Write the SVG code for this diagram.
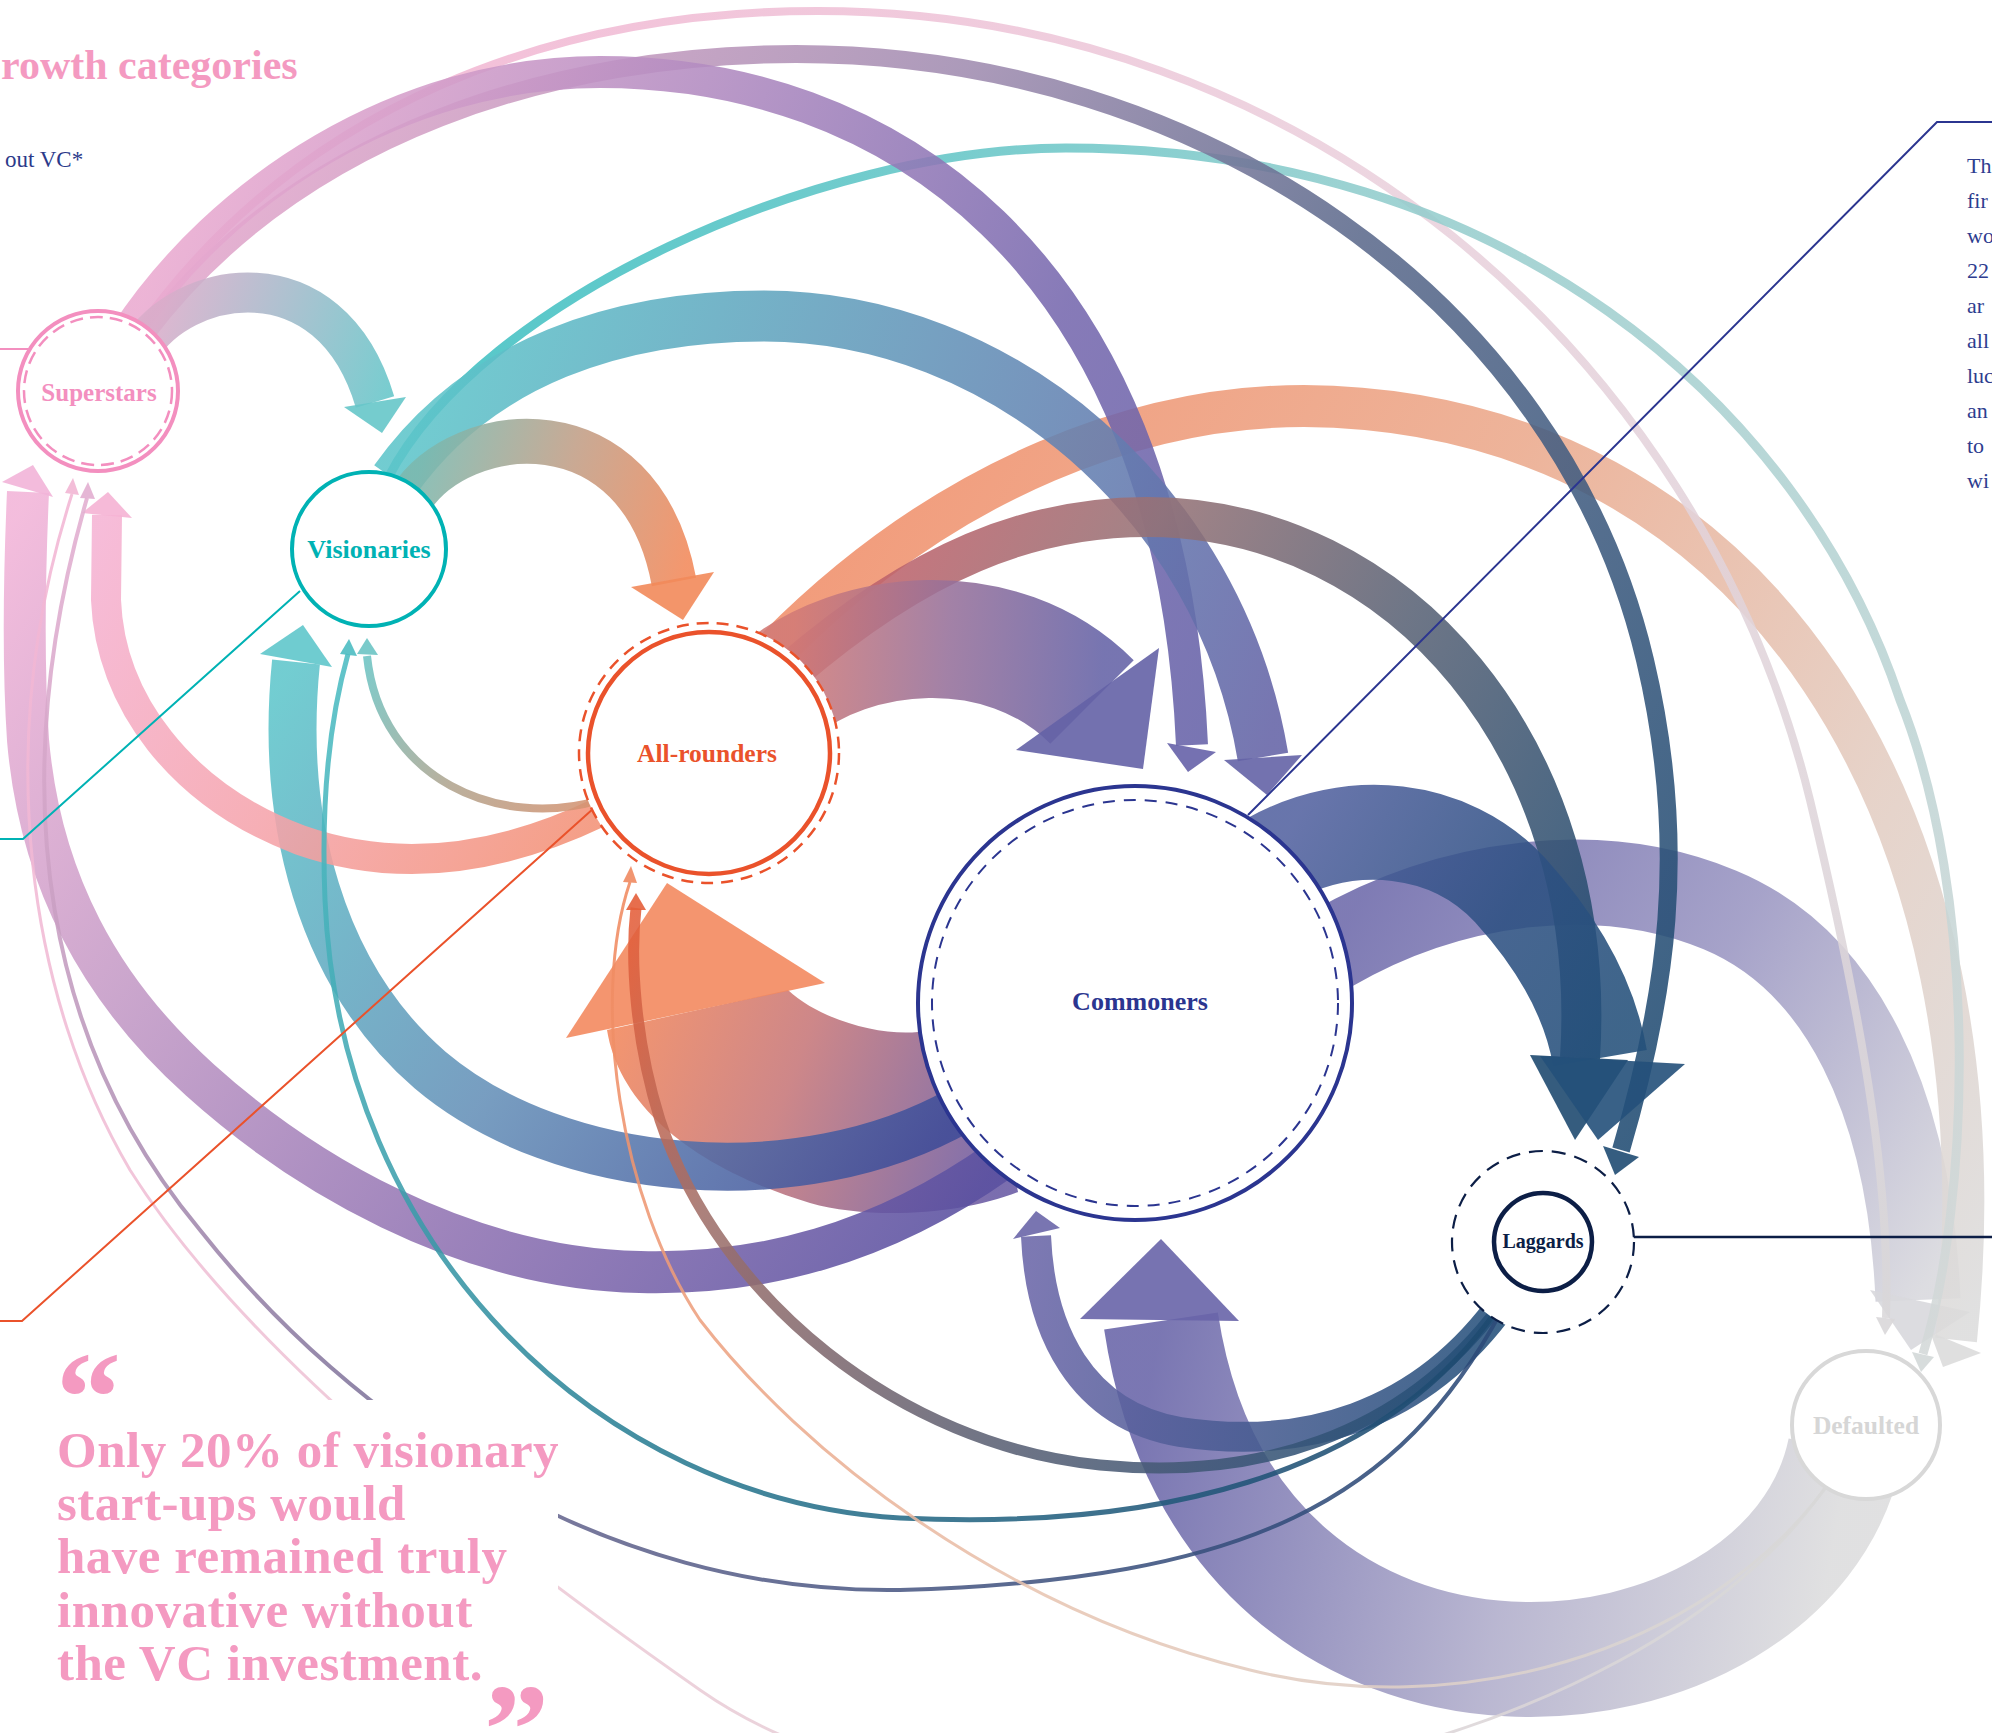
<svg xmlns="http://www.w3.org/2000/svg" width="1992" height="1733" viewBox="0 0 1992 1733">
<style>
.band{fill:none;stroke-linecap:butt;stroke-opacity:0.88}
.head{fill-opacity:0.9}
.lbl{font-family:"Liberation Serif",serif;font-weight:bold;text-anchor:middle}
.side{font-family:"Liberation Serif",serif;font-size:22px;fill:#2e3d8f}
</style>
<defs>
<linearGradient id="gSV" gradientUnits="userSpaceOnUse" x1="150" y1="340" x2="380" y2="420"><stop offset="0" stop-color="#d9adca"/><stop offset="1" stop-color="#66c6c9"/></linearGradient>
<linearGradient id="gSC" gradientUnits="userSpaceOnUse" x1="130" y1="330" x2="1200" y2="750"><stop offset="0" stop-color="#eaaad0"/><stop offset="0.4" stop-color="#b08ac0"/><stop offset="0.75" stop-color="#7668ae"/><stop offset="1" stop-color="#6662a8"/></linearGradient>
<linearGradient id="gSL" gradientUnits="userSpaceOnUse" x1="145" y1="335" x2="1640" y2="1150"><stop offset="0" stop-color="#e3a7cc"/><stop offset="0.35" stop-color="#a08cb0"/><stop offset="0.6" stop-color="#5c6a8c"/><stop offset="1" stop-color="#1f4b72"/></linearGradient>
<linearGradient id="gSD" gradientUnits="userSpaceOnUse" x1="135" y1="335" x2="1890" y2="1320"><stop offset="0" stop-color="#f3b4d2"/><stop offset="0.5" stop-color="#ead0dc"/><stop offset="1" stop-color="#d9d7d9"/></linearGradient>
<linearGradient id="gVC" gradientUnits="userSpaceOnUse" x1="395" y1="480" x2="1263" y2="757"><stop offset="0" stop-color="#5ec5ca"/><stop offset="0.5" stop-color="#6395b9"/><stop offset="1" stop-color="#6463a6"/></linearGradient>
<linearGradient id="gVD" gradientUnits="userSpaceOnUse" x1="388" y1="478" x2="1923" y2="1354"><stop offset="0" stop-color="#3fc0c2"/><stop offset="0.4" stop-color="#90cccc"/><stop offset="1" stop-color="#d3d8d8"/></linearGradient>
<linearGradient id="gVA" gradientUnits="userSpaceOnUse" x1="410" y1="500" x2="680" y2="585"><stop offset="0" stop-color="#7cb8ae"/><stop offset="0.5" stop-color="#c19e86"/><stop offset="1" stop-color="#f2895a"/></linearGradient>
<linearGradient id="gAC" gradientUnits="userSpaceOnUse" x1="790" y1="680" x2="1100" y2="700"><stop offset="0" stop-color="#d27a76"/><stop offset="0.5" stop-color="#96709a"/><stop offset="1" stop-color="#6462a6"/></linearGradient>
<linearGradient id="gAD" gradientUnits="userSpaceOnUse" x1="770" y1="655" x2="1956" y2="1340"><stop offset="0" stop-color="#f08f6a"/><stop offset="0.4" stop-color="#eba98c"/><stop offset="0.75" stop-color="#e3cdc2"/><stop offset="1" stop-color="#dcdcdc"/></linearGradient>
<linearGradient id="gAL" gradientUnits="userSpaceOnUse" x1="790" y1="672" x2="1584" y2="1060"><stop offset="0" stop-color="#c5606a"/><stop offset="0.3" stop-color="#957276"/><stop offset="0.6" stop-color="#5a6376"/><stop offset="1" stop-color="#1f4a70"/></linearGradient>
<linearGradient id="gCL" gradientUnits="userSpaceOnUse" x1="1270" y1="860" x2="1600" y2="1060"><stop offset="0" stop-color="#5362a0"/><stop offset="0.6" stop-color="#2d5082"/><stop offset="1" stop-color="#24507a"/></linearGradient>
<linearGradient id="gCD" gradientUnits="userSpaceOnUse" x1="1330" y1="950" x2="1918" y2="1300"><stop offset="0" stop-color="#6d69aa"/><stop offset="0.5" stop-color="#9a96c2"/><stop offset="1" stop-color="#d8d8dd"/></linearGradient>
<linearGradient id="gDC" gradientUnits="userSpaceOnUse" x1="1850" y1="1460" x2="1160" y2="1330"><stop offset="0" stop-color="#dcdcdd"/><stop offset="0.45" stop-color="#b0adcb"/><stop offset="1" stop-color="#6864a8"/></linearGradient>
<linearGradient id="gCA" gradientUnits="userSpaceOnUse" x1="620" y1="1000" x2="1010" y2="1150"><stop offset="0" stop-color="#f38a5f"/><stop offset="0.45" stop-color="#c87a7c"/><stop offset="1" stop-color="#6c5ea6"/></linearGradient>
<linearGradient id="gCV" gradientUnits="userSpaceOnUse" x1="960" y1="1110" x2="296" y2="660"><stop offset="0" stop-color="#3f4c98"/><stop offset="0.5" stop-color="#6590b8"/><stop offset="1" stop-color="#5fc6cb"/></linearGradient>
<linearGradient id="gCS" gradientUnits="userSpaceOnUse" x1="1000" y1="1160" x2="28" y2="500"><stop offset="0" stop-color="#5a50a0"/><stop offset="0.35" stop-color="#8f72b2"/><stop offset="0.7" stop-color="#c49ac6"/><stop offset="1" stop-color="#f2b4d8"/></linearGradient>
<linearGradient id="gAS" gradientUnits="userSpaceOnUse" x1="600" y1="812" x2="106" y2="515"><stop offset="0" stop-color="#f39277"/><stop offset="0.5" stop-color="#f5a4ac"/><stop offset="1" stop-color="#f5b3d4"/></linearGradient>
<linearGradient id="gLC" gradientUnits="userSpaceOnUse" x1="1505" y1="1300" x2="1036" y2="1236"><stop offset="0" stop-color="#24507a"/><stop offset="1" stop-color="#6a66a8"/></linearGradient>
<linearGradient id="gLA" gradientUnits="userSpaceOnUse" x1="1500" y1="1305" x2="636" y2="908"><stop offset="0" stop-color="#244f78"/><stop offset="0.45" stop-color="#5f6274"/><stop offset="0.8" stop-color="#a0706a"/><stop offset="1" stop-color="#e45e3a"/></linearGradient>
<linearGradient id="gLV" gradientUnits="userSpaceOnUse" x1="1498" y1="1308" x2="348" y2="654"><stop offset="0" stop-color="#1e4a70"/><stop offset="0.5" stop-color="#2a7d93"/><stop offset="1" stop-color="#4cbcc2"/></linearGradient>
<linearGradient id="gLS" gradientUnits="userSpaceOnUse" x1="1502" y1="1310" x2="87" y2="498"><stop offset="0" stop-color="#2c4a78"/><stop offset="0.5" stop-color="#6e6a92"/><stop offset="1" stop-color="#e2aed0"/></linearGradient>
<linearGradient id="gDS" gradientUnits="userSpaceOnUse" x1="1830" y1="1480" x2="72" y2="494"><stop offset="0" stop-color="#d8d8d8"/><stop offset="0.5" stop-color="#eccad6"/><stop offset="1" stop-color="#f2b6d4"/></linearGradient>
<linearGradient id="gDA" gradientUnits="userSpaceOnUse" x1="1830" y1="1482" x2="630" y2="882"><stop offset="0" stop-color="#d8d8d8"/><stop offset="0.5" stop-color="#e8c4b0"/><stop offset="1" stop-color="#f08a60"/></linearGradient>
<linearGradient id="gAV" gradientUnits="userSpaceOnUse" x1="600" y1="800" x2="367" y2="654"><stop offset="0" stop-color="#d69270"/><stop offset="0.5" stop-color="#b0a590"/><stop offset="1" stop-color="#6cc4c4"/></linearGradient>
</defs>
<rect width="1992" height="1733" fill="#ffffff"/>

<g id="connectors">
  <g id="flow-defaulted-commoners">
    <path class="band" stroke="url(#gDC)" stroke-width="115" d="M1845,1450 C1790,1720 1230,1780 1161,1321"/>
    <polygon class="head" fill="#6864a8" points="1080,1319 1161,1239 1239,1321"/>
  </g>
  <g id="flow-commoners-defaulted">
    <path class="band" stroke="url(#gCD)" stroke-width="85" d="M1330,950 C1450,880 1600,860 1720,910 C1840,960 1910,1100 1918,1300"/>
    <polygon class="head" fill="#d8d8dd" points="1870,1290 1970,1312 1911,1350"/>
  </g>
  <g id="flow-allrounders-defaulted">
    <path class="band" stroke="url(#gAD)" stroke-width="42" d="M770,655 C950,470 1150,406 1304,406 C1760,410 2010,820 1956,1340"/>
    <polygon class="head" fill="#dcdcdc" points="1930,1332 1981,1353 1943,1367"/>
  </g>
  <g id="flow-superstars-defaulted">
    <path class="band" stroke="url(#gSD)" stroke-width="8" d="M135,335 C300,100 560,11 818,11 C1300,11 1700,350 1810,800 C1870,1050 1890,1200 1886,1318"/>
    <polygon class="head" fill="#d9d7d9" points="1876,1317 1895,1319 1885,1335"/>
  </g>
  <g id="flow-visionaries-defaulted">
    <path class="band" stroke="url(#gVD)" stroke-width="9" d="M388,478 C480,300 820,148 1066,148 C1500,148 1800,400 1900,700 C1980,900 1970,1200 1923,1354"/>
    <polygon class="head" fill="#d3d8d8" points="1912,1352 1934,1357 1921,1372"/>
  </g>
  <g id="flow-superstars-laggards">
    <path class="band" stroke="url(#gSL)" stroke-width="18" d="M145,335 C300,130 560,54 796,54 C1200,54 1560,300 1645,660 C1690,850 1665,1000 1621,1150"/>
    <polygon class="head" fill="#1f4b72" points="1603,1146 1639,1157 1615,1175"/>
  </g>
  <g id="flow-superstars-commoners">
    <path class="band" stroke="url(#gSC)" stroke-width="32" d="M125,335 C220,190 400,72 600,72 C880,72 1170,250 1192,745"/>
    <polygon class="head" fill="#6662a8" points="1167,743 1216,752 1188,772"/>
  </g>
  <g id="flow-visionaries-commoners">
    <path class="band" stroke="url(#gVC)" stroke-width="51" d="M395,480 C480,360 620,316 764,316 C1000,316 1220,500 1263,757"/>
    <polygon class="head" fill="#6463a6" points="1224,760 1302,755 1267,795"/>
  </g>
  <g id="flow-allrounders-laggards">
    <path class="band" stroke="url(#gAL)" stroke-width="40" d="M790,672 C920,560 1030,517 1147,517 C1400,517 1600,750 1580,1058"/>
    <polygon class="head" fill="#1f4a70" points="1530,1055 1628,1060 1575,1140"/>
  </g>
  <g id="flow-commoners-laggards">
    <path class="band" stroke="url(#gCL)" stroke-width="95" d="M1270,860 C1350,815 1450,825 1510,890 C1560,945 1590,1000 1600,1058"/>
    <polygon class="head" fill="#24507a" points="1540,1056 1685,1064 1598,1140"/>
  </g>
  <g id="flow-allrounders-commoners">
    <path class="band" stroke="url(#gAC)" stroke-width="118" d="M780,690 C850,630 1000,610 1092,702"/>
    <polygon class="head" fill="#6462a6" points="1016,750 1159,648 1143,769"/>
  </g>
  <g id="flow-visionaries-allrounders">
    <path class="band" stroke="url(#gVA)" stroke-width="45" d="M410,500 C460,420 640,400 674,582"/>
    <polygon class="head" fill="#f2895a" points="631,587 714,572 683,620"/>
  </g>
  <g id="flow-superstars-visionaries">
    <path class="band" stroke="url(#gSV)" stroke-width="40" d="M140,350 C180,280 330,250 375,402"/>
    <polygon class="head" fill="#66c6c9" points="344,407 406,397 382,433"/>
  </g>
  <g id="flow-commoners-allrounders">
    <path class="head" fill="url(#gCA)" d="M607,1030 C620,1110 700,1170 810,1203 C870,1220 960,1215 1018,1192 L1000,1100 L918,1032 C880,1036 820,1020 788,990 Z"/>
    <polygon class="head" fill="#f38a5f" points="566,1038 667,883 825,983"/>
  </g>
  <g id="flow-commoners-visionaries">
    <path class="band" stroke="url(#gCV)" stroke-width="48" d="M960,1110 C800,1200 560,1180 430,1070 C320,975 280,820 296,662"/>
    <polygon class="head" fill="#5fc6cb" points="260,654 332,667 303,625"/>
  </g>
  <g id="flow-commoners-superstars">
    <path class="band" stroke="url(#gCS)" stroke-width="42" d="M1000,1160 C880,1245 760,1275 640,1272 C460,1268 300,1170 200,1080 C100,990 40,880 28,740 C22,650 25,560 28,492"/>
    <polygon class="head" fill="#f2b4d8" points="2,482 53,497 33,465"/>
  </g>
  <g id="flow-allrounders-superstars">
    <path class="band" stroke="url(#gAS)" stroke-width="30" d="M600,812 C500,860 400,875 300,840 C180,795 110,700 106,600 L107,515"/>
    <polygon class="head" fill="#f5b3d4" points="82,513 132,518 108,492"/>
  </g>
  <g id="flow-laggards-commoners">
    <path class="band" stroke="url(#gLC)" stroke-width="30" d="M1505,1300 C1420,1420 1300,1450 1180,1432 C1080,1415 1040,1330 1036,1236"/>
    <polygon class="head" fill="#6a66a8" points="1013,1239 1060,1228 1036,1211"/>
  </g>
  <g id="flow-laggards-allrounders">
    <path class="band" stroke="url(#gLA)" stroke-width="11" d="M1500,1305 C1400,1440 1250,1480 1100,1465 C900,1445 720,1300 660,1120 C635,1040 630,960 636,908"/>
    <polygon class="head" fill="#e45e3a" points="626,910 646,910 636,893"/>
  </g>
  <g id="flow-laggards-visionaries">
    <path class="band" stroke="url(#gLV)" stroke-width="5" d="M1498,1308 C1380,1480 1150,1530 900,1518 C600,1500 340,1250 325,900 C320,780 335,700 348,654"/>
    <polygon class="head" fill="#4cbcc2" points="340,654 357,656 349,639"/>
  </g>
  <g id="flow-allrounders-visionaries">
    <path class="band" stroke="url(#gAV)" stroke-width="8" d="M600,800 C500,830 380,780 367,656"/>
    <polygon class="head" fill="#6cc4c4" points="357,654 378,655 367,638"/>
  </g>
  <g id="flow-laggards-superstars">
    <path class="band" stroke="url(#gLS)" stroke-width="4" d="M1502,1310 C1400,1500 1250,1580 900,1590 C600,1595 350,1420 200,1230 C50,1050 0,800 87,498"/>
    <polygon class="head" fill="#e2aed0" points="80,498 95,499 88,482"/>
  </g>
  <g id="flow-defaulted-superstars">
    <path class="band" stroke="url(#gDS)" stroke-width="3" d="M1830,1480 C1650,1760 1000,1900 700,1690 C500,1550 250,1360 130,1170 C30,1000 -10,750 72,494"/>
    <polygon class="head" fill="#f2b6d4" points="65,493 79,495 73,478"/>
  </g>
  <g id="flow-defaulted-allrounders">
    <path class="band" stroke="url(#gDA)" stroke-width="3" d="M1830,1482 C1700,1660 1450,1720 1250,1670 C1000,1610 800,1450 700,1320 C620,1200 590,1000 630,882"/>
    <polygon class="head" fill="#f08a60" points="623,882 637,883 631,866"/>
  </g>
</g>

<g id="quote">
  <rect x="0" y="1400" width="558" height="333" fill="#ffffff"/>
  <text x="56" y="1441" font-family="Liberation Serif, serif" font-weight="bold" font-size="130" fill="#f49ac1">“</text>
  <g font-family="Liberation Serif, serif" font-weight="bold" font-size="51" letter-spacing="0.5" fill="#f49ac1">
    <text x="57" y="1467">Only 20% of visionary</text>
    <text x="57" y="1520">start-ups would</text>
    <text x="57" y="1573">have remained truly</text>
    <text x="57" y="1627">innovative without</text>
    <text x="57" y="1680">the VC investment.</text>
  </g>
  <text x="484" y="1773" font-family="Liberation Serif, serif" font-weight="bold" font-size="130" fill="#f49ac1">”</text>
</g>

<g id="header">
  <text x="1" y="79" font-family="Liberation Serif, serif" font-weight="bold" font-size="42" fill="#f49ac1">rowth categories</text>
  <text x="5" y="167" font-family="Liberation Serif, serif" font-size="23" fill="#2b3a8a">out VC*</text>
</g>

<g id="side-note">
  <text class="side" x="1967" y="173">Th</text>
  <text class="side" x="1967" y="208">fir</text>
  <text class="side" x="1967" y="243">wo</text>
  <text class="side" x="1967" y="278">22</text>
  <text class="side" x="1967" y="313">ar</text>
  <text class="side" x="1967" y="348">all</text>
  <text class="side" x="1967" y="383">luc</text>
  <text class="side" x="1967" y="418">an</text>
  <text class="side" x="1967" y="453">to</text>
  <text class="side" x="1967" y="488">wi</text>
</g>

<g id="leaders" fill="none">
  <polyline points="0,349 30,349" stroke="#f38fbf" stroke-width="2"/>
  <polyline points="0,839 23,839 300,591" stroke="#00b2b4" stroke-width="2"/>
  <polyline points="0,1321 22,1321 594,808" stroke="#ea522b" stroke-width="2"/>
  <polyline points="1992,122 1937,122 1248,815" stroke="#2b3590" stroke-width="2"/>
  <polyline points="1592,1237 1992,1237" stroke="#0c1e46" stroke-width="2.5"/>
</g>

<g id="node-superstars">
  <circle cx="98" cy="391" r="80" fill="#ffffff" stroke="#f38fbf" stroke-width="4"/>
  <circle cx="98" cy="391" r="74" fill="none" stroke="#f38fbf" stroke-width="2.5" stroke-dasharray="13 7"/>
  <text class="lbl" x="99" y="401" font-size="25" fill="#f38fbf">Superstars</text>
</g>
<g id="node-visionaries">
  <circle cx="369" cy="549" r="77" fill="#ffffff" stroke="#00b2b4" stroke-width="4"/>
  <text class="lbl" x="369" y="558" font-size="26" fill="#00b2b4">Visionaries</text>
</g>
<g id="node-allrounders">
  <circle cx="709" cy="753" r="130" fill="#ffffff" stroke="#ea522b" stroke-width="2.5" stroke-dasharray="12 8"/>
  <circle cx="709" cy="753" r="121" fill="#ffffff" stroke="#ea522b" stroke-width="4.5"/>
  <text class="lbl" x="707" y="762" font-size="25.5" fill="#ea522b">All-rounders</text>
</g>
<g id="node-commoners">
  <circle cx="1135" cy="1003" r="217" fill="#ffffff" stroke="#2b3590" stroke-width="4"/>
  <circle cx="1135" cy="1003" r="203" fill="none" stroke="#2b3590" stroke-width="2" stroke-dasharray="12 9"/>
  <text class="lbl" x="1140" y="1010" font-size="26" fill="#2b3590">Commoners</text>
</g>
<g id="node-laggards">
  <circle cx="1543" cy="1242" r="91" fill="#ffffff" stroke="#0c1e46" stroke-width="2.2" stroke-dasharray="14 9"/>
  <circle cx="1543" cy="1242" r="49" fill="#ffffff" stroke="#0c1e46" stroke-width="4.5"/>
  <text class="lbl" x="1543" y="1248" font-size="20" fill="#0c1e46">Laggards</text>
</g>
<g id="node-defaulted">
  <circle cx="1866" cy="1425" r="74" fill="#ffffff" stroke="#d8d8d8" stroke-width="4"/>
  <text class="lbl" x="1866" y="1434" font-size="25.5" fill="#d6d6d6">Defaulted</text>
</g>
</svg>
